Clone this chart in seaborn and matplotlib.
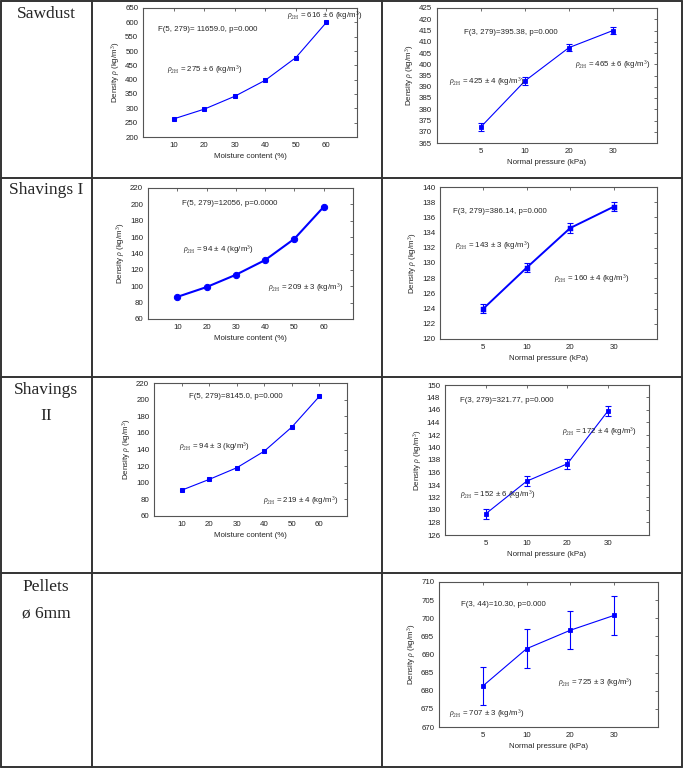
import matplotlib
matplotlib.use("Agg")
import matplotlib.pyplot as plt
import numpy as np
import pandas as pd
import seaborn as sns

sns.set_style("white")
plt.rcParams["font.family"] = ["Liberation Sans", "DejaVu Sans"]
plt.rcParams["mathtext.fontset"] = "custom"
plt.rcParams["mathtext.rm"] = "Liberation Serif"
plt.rcParams["mathtext.it"] = "Liberation Serif:italic"

# data
moisture = [10, 20, 30, 40, 50, 60]
sawdust_moist = [263, 297, 342, 398, 477, 600]
shav1_moist = [87, 99, 114, 132, 158, 197]
shav2_moist = [91, 104, 118, 138, 167, 204]

pressure = ["5", "10", "20", "30"]
sawdust_press = [372.2, 392.6, 407.4, 415.0]
sawdust_err = [1.7, 1.7, 1.6, 1.6]
shav1_press = [124.0, 129.4, 134.6, 137.4]
shav1_err = [0.6, 0.6, 0.6, 0.6]
shav2_press = [129.4, 134.6, 137.4, 145.9]
shav2_err = [0.8, 0.8, 0.8, 0.8]
pellet_press = [681.3, 691.6, 696.7, 700.8]
pellet_err = [5.3, 5.3, 5.3, 5.3]

row_labels = ["Sawdust", "Shavings I", "Shavings\nII", "Pellets\nø 6mm"]

W, H = 685, 768
fig = plt.figure(figsize=(W / 100, H / 100), dpi=100)

# table grid drawn on a background axes in pixel units
bg = fig.add_axes([0, 0, 1, 1])
bg.set_xlim(0, W)
bg.set_ylim(H, 0)
bg.axis("off")
for x in [1, 92, 382, 682]:
    bg.plot([x, x], [1, 767], color="#333333", lw=1.4)
for y in [1, 178, 377, 573, 767]:
    bg.plot([1, 682], [y, y], color="#333333", lw=1.4)

label_y = [14, 190, 403, 600]
for lab, y in zip(row_labels, label_y):
    bg.text(46, y, lab, ha="center", va="center", fontsize=12.5,
            family="Liberation Serif", linespacing=1.9)


def px_axes(x0, x1, ytop, ybot):
    return fig.add_axes([x0 / W, 1 - ybot / H, (x1 - x0) / W, (ybot - ytop) / H])


def style(ax, yticks, xlabel):
    ax.set_yticks(yticks)
    ax.set_ylim(yticks[0], yticks[-1])
    for s in ax.spines.values():
        s.set_color("#555555")
        s.set_linewidth(0.8)
    ax.tick_params(labelsize=5.7, length=2, width=0.6, direction="out",
                   colors="#222222", pad=1.5)
    ax.set_xlabel(xlabel, fontsize=5.7, labelpad=3)
    ax.set_ylabel(r"Density $\rho$ (kg/m$^3$)", fontsize=5.7, labelpad=2)
    top = ax.secondary_xaxis("top")
    top.set_xticks(ax.get_xticks())
    top.tick_params(direction="in", length=2, width=0.6, labeltop=False, colors="#555555")
    right = ax.secondary_yaxis("right")
    right.set_yticks(yticks)
    right.tick_params(direction="in", length=2, width=0.6, labelright=False, colors="#555555")
    for s in list(top.spines.values()) + list(right.spines.values()):
        s.set_visible(False)


def notes(ax, items):
    for fx, fy, txt in items:
        ax.text(fx, fy, txt, transform=ax.transAxes, fontsize=5.7,
                ha="left", va="center", clip_on=False)


def rho(v, e):
    return r"$\rho_{\mathrm{2H}}$ = " + f"{v} ± {e}" + r" (kg/m$^3$)"


def moist_plot(box, vals, yticks, marker, ms, lw, items):
    ax = px_axes(*box)
    df = pd.DataFrame({"m": moisture, "d": vals})
    sns.lineplot(data=df, x="m", y="d", ax=ax, color="blue", lw=lw,
                 marker=marker, markersize=ms, markeredgecolor="blue")
    ax.set_xlim(0, 70)
    ax.set_xticks(moisture)
    style(ax, yticks, "Moisture content (%)")
    notes(ax, items)
    return ax


def press_plot(box, vals, errs, yticks, lw, items):
    ax = px_axes(*box)
    df = pd.DataFrame({"p": pressure, "d": vals})
    sns.pointplot(data=df, x="p", y="d", ax=ax, color="blue", errorbar=None,
                  markers="s", markersize=2.2, linewidth=lw)
    ax.errorbar(np.arange(len(pressure)), vals, yerr=errs, fmt="none",
                ecolor="blue", elinewidth=0.8, capsize=2.2, capthick=0.8)
    ax.set_xlim(-1, 4)
    style(ax, yticks, "Normal pressure (kPa)")
    notes(ax, items)
    return ax


moist_plot((143, 357, 8, 137), sawdust_moist, list(range(200, 651, 50)), "s", 2.3, 0.8,
           [(0.07, 0.837, "F(5, 279)= 11659.0, p=0.000"),
            (0.112, 0.527, rho(275, 6)),
            (0.673, 0.938, rho(616, 6))])
press_plot((437, 657, 8, 143), sawdust_press, sawdust_err, list(range(365, 426, 5)), 0.8,
           [(0.123, 0.815, "F(3, 279)=395.38, p=0.000"),
            (0.055, 0.459, rho(425, 4)),
            (0.627, 0.578, rho(465, 6))])

moist_plot((148, 353, 188, 319), shav1_moist, list(range(60, 221, 20)), "o", 4.5, 1.5,
           [(0.166, 0.878, "F(5, 279)=12056, p=0.0000"),
            (0.171, 0.534, rho(94, 4)),
            (0.585, 0.237, rho(209, 3))])
press_plot((440, 657, 187, 339), shav1_press, shav1_err, list(range(120, 141, 2)), 1.4,
           [(0.06, 0.836, "F(3, 279)=386.14, p=0.000"),
            (0.069, 0.618, rho(143, 3)),
            (0.525, 0.395, rho(160, 4))])

moist_plot((154, 347, 383, 516), shav2_moist, list(range(60, 221, 20)), "s", 2.3, 0.8,
           [(0.181, 0.895, "F(5, 279)=8145.0, p=0.000"),
            (0.13, 0.526, rho(94, 3)),
            (0.565, 0.113, rho(219, 4))])
press_plot((445, 649, 385, 535), shav2_press, shav2_err, list(range(126, 151, 2)), 0.8,
           [(0.074, 0.9, "F(3, 279)=321.77, p=0.000"),
            (0.574, 0.693, rho(172, 4)),
            (0.074, 0.273, rho(152, 6))])

press_plot((439, 658, 582, 727), pellet_press, pellet_err, list(range(670, 711, 5)), 0.8,
           [(0.1, 0.848, "F(3, 44)=10.30, p=0.000"),
            (0.543, 0.31, rho(725, 3)),
            (0.046, 0.09, rho(707, 3))])

fig.savefig("out.png", dpi=100)
